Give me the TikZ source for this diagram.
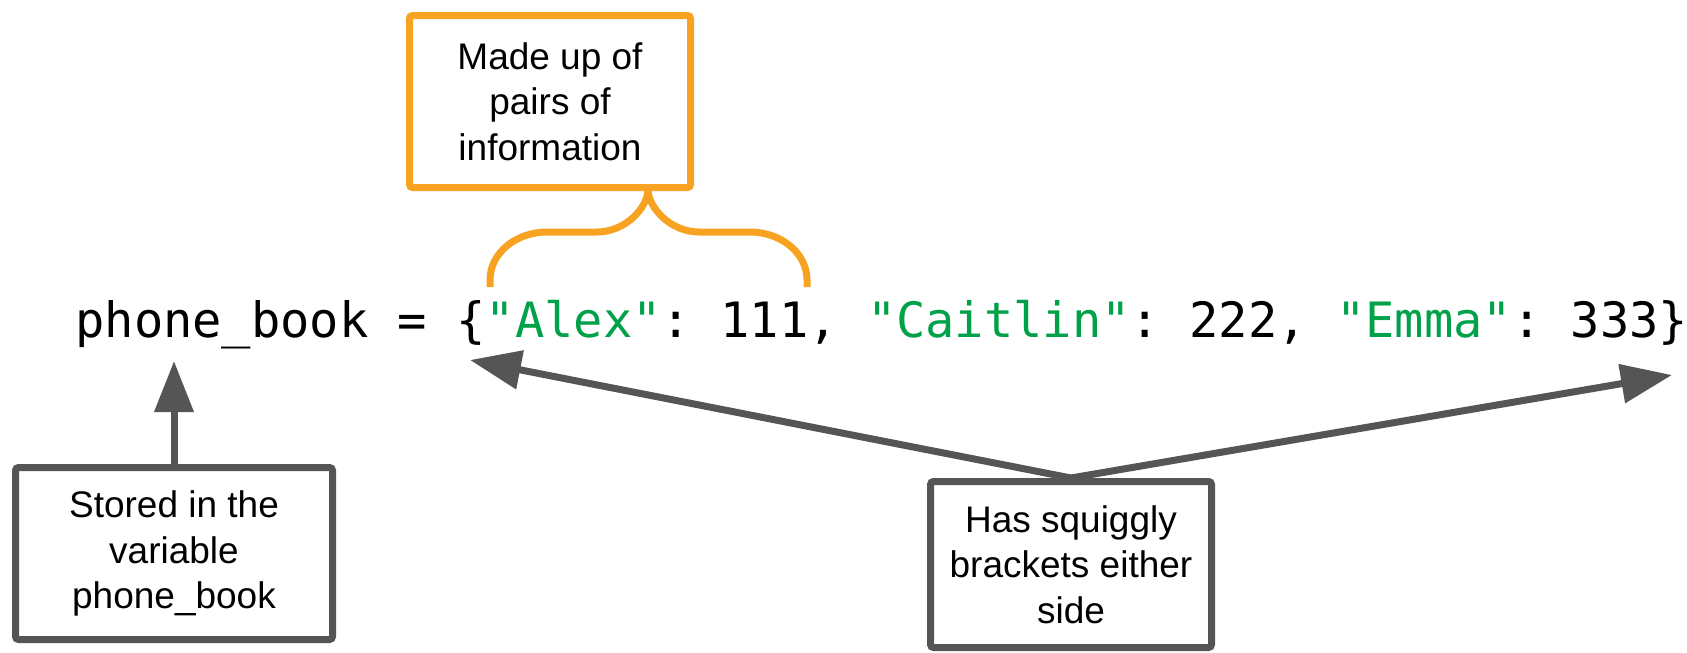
\documentclass[tikz,border=0pt]{standalone}
\usepackage{fontspec}
\usepackage{xcolor}
\setmainfont{Liberation Sans}
\newfontfamily\codefont{DejaVu Sans Mono}
\usetikzlibrary{arrows.meta}

\definecolor{noteorange}{RGB}{247,163,33}
\definecolor{notegray}{RGB}{85,85,85}
\definecolor{codegreen}{RGB}{0,161,73}

\tikzset{
  notebox/.style={draw=notegray, line width=3.5pt, rounded corners=1.5pt, align=center,
    inner sep=0pt, font=\fontsize{18.5}{22.8}\selectfont},
  pairbox/.style={notebox, draw=noteorange},
  pointer/.style={draw=notegray, line width=3.5pt, -{Triangle[length=25.5pt,width=19pt]}},
  bracepath/.style={draw=noteorange, line width=3.5pt}
}

\begin{document}
\begin{tikzpicture}[x=0.5pt,y=-0.5pt]
\useasboundingbox (0,0) rectangle (1687,653);

% the dictionary line
\node[anchor=base west, inner sep=0pt, font=\codefont\fontsize{24.35}{28}\selectfont\frenchspacing] (code) at (75,337)
  {phone\_book = \{\textcolor{codegreen}{"Alex"}: 111, \textcolor{codegreen}{"Caitlin"}: 222, \textcolor{codegreen}{"Emma"}: 333\}};

% notes
\node[pairbox, minimum width=140.5pt, minimum height=86pt] (pairs) at (550,101.5) {Made up of\\pairs of\\information};
\node[notebox, minimum width=158.5pt, minimum height=86pt] (stored) at (174,553.5) {Stored in the\\variable\\phone\_book};
\node[notebox, minimum width=140.5pt, minimum height=83pt] (brackets) at (1071,564.5) {Has squiggly\\brackets either\\side};

\coordinate (varname) at (174,361);
\coordinate (openbrace) at (470,360);
\coordinate (closebrace) at (1672,375);
\coordinate (bracetip) at (648,189);

% arrows
\draw[pointer] (stored.north) -- (varname);
\draw[pointer] (brackets.north) -- (openbrace);
\draw[pointer] (brackets.north) -- (closebrace);

% curly brace under the orange note
\draw[bracepath] (490,287) -- (490,280) .. controls (490,253) and (516,232) .. (547,232) -- (597,232)
  .. controls (625,232) and (648,208) .. (bracetip)
  .. controls (648,208) and (671,232) .. (699,232) -- (750,232)
  .. controls (781,232) and (807,253) .. (807,280) -- (807,287);

\end{tikzpicture}
\end{document}
